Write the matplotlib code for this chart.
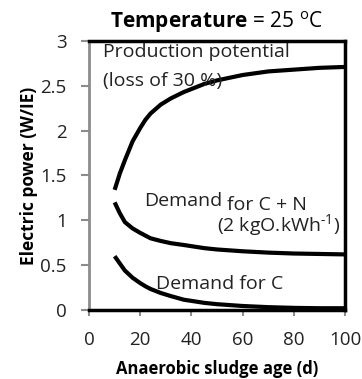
import numpy as np
import matplotlib
matplotlib.use('Agg')
import matplotlib.pyplot as plt

plt.rcParams['font.family'] = ['Open Sans', 'DejaVu Sans']
plt.rcParams['mathtext.fontset'] = 'custom'
plt.rcParams['mathtext.rm'] = 'Open Sans'
plt.rcParams['mathtext.bf'] = 'Open Sans:bold'

# sludge age (d)
sludge_age = [10, 12, 14, 17, 20, 22, 24, 28, 32, 37, 45, 50, 60, 70, 80, 90, 100]
# electric power (W/IE)
production = [1.34, 1.52, 1.67, 1.88, 2.03, 2.12, 2.19, 2.29, 2.36, 2.43, 2.52, 2.56,
              2.62, 2.66, 2.68, 2.70, 2.71]
demand_cn = [1.20, 1.08, 0.98, 0.91, 0.86, 0.83, 0.80, 0.77, 0.745, 0.725, 0.69, 0.675,
             0.655, 0.64, 0.63, 0.625, 0.62]
demand_c = [0.60, 0.52, 0.44, 0.36, 0.30, 0.265, 0.235, 0.19, 0.155, 0.115, 0.08, 0.065,
            0.045, 0.032, 0.024, 0.02, 0.02]

xticks = [0, 20, 40, 60, 80, 100]
yticks = [0, 0.5, 1, 1.5, 2, 2.5, 3]

fig = plt.figure(figsize=(3.62, 3.79), dpi=100)
ax = fig.add_axes([0.246, 0.182, 0.707, 0.71])

for ys in (production, demand_cn, demand_c):
    ax.plot(sludge_age, ys, color='black', lw=3, solid_capstyle='butt',
            solid_joinstyle='round')

ax.set_xlim(0, 100)
ax.set_ylim(0, 3)
ax.set_xticks(xticks)
ax.set_yticks(yticks)
ax.set_yticklabels(['0', '0.5', '1', '1.5', '2', '2.5', '3'])

for s in ('top', 'right', 'bottom'):
    ax.spines[s].set_color('black')
    ax.spines[s].set_linewidth(2.5)
ax.spines['left'].set_color('#8c8c8c')
ax.spines['left'].set_linewidth(2)
ax.tick_params(axis='both', colors='#8c8c8c', labelcolor='#222222',
               labelsize=13.5, width=1.5)
ax.tick_params(axis='y', length=6, pad=10)
ax.tick_params(axis='x', length=4, pad=11)

ax.set_xlabel('Anaerobic sludge age (d)', fontsize=12, fontweight='bold', labelpad=8)
ax.set_ylabel('Electric power (W/IE)', fontsize=12.5, fontweight='bold', labelpad=2)
ax.set_title(r'$\bf{Temperature}$ = 25 $^{\rm o}$C', fontsize=15, pad=9)

txt = dict(fontsize=14, color='#222222')
ax.text(5.6, 2.88, 'Production potential', va='center', ha='left', **txt)
ax.text(5.6, 2.55, '(loss of 30 %)', va='center', ha='left', **txt)
ax.text(21.5, 1.22, 'Demand', va='center', ha='left', **txt)
ax.text(54, 1.17, 'for C + N', va='center', ha='left', **txt)
ax.text(98, 0.94, r'(2 kgO.kWh$^{\text{-1}}$)', va='center', ha='right', **txt)
ax.text(26, 0.29, 'Demand for C', va='center', ha='left', **txt)

fig.savefig('out.png', dpi=100)
